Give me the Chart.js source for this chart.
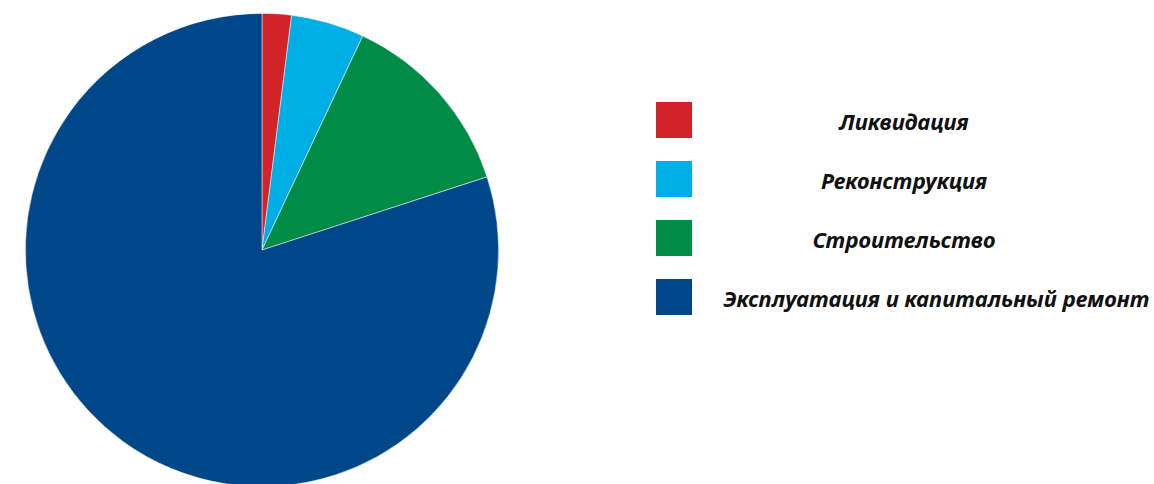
<!DOCTYPE html>
<html lang="ru">
<head>
<meta charset="utf-8">
<title>Структура работ</title>
<script src="https://cdn.jsdelivr.net/npm/chart.js@4/dist/chart.umd.min.js"></script>
<style>
    html, body {
        margin: 0;
        padding: 0;
        width: 1154px;
        height: 484px;
        overflow: hidden;
        background: #fff;
    }
    #pieBox {
        position: absolute;
        left: 0;
        top: 0;
        width: 524px;
        height: 500px;
    }
    #legend {
        position: absolute;
        left: 656px;
        top: 102px;
        margin: 0;
        padding: 0;
        list-style: none;
        font-family: "Noto Sans", sans-serif;
        font-weight: bold;
        font-style: italic;
        font-size: 22px;
        color: #111;
    }
    #legend li {
        position: relative;
        height: 36px;
        margin-bottom: 23px;
    }
    #legend .swatch {
        position: absolute;
        left: 0;
        top: 0;
        width: 36px;
        height: 36px;
    }
    #legend .label {
        position: absolute;
        left: 67px;
        top: 1px;
        width: 362px;
        line-height: 36px;
        text-align: center;
        white-space: nowrap;
    }
</style>
</head>
<body>
<div id="pieBox"><canvas id="pieChart"></canvas></div>
<ul id="legend"></ul>
<script>
    const categories = ['Ликвидация', 'Реконструкция', 'Строительство', 'Эксплуатация и капитальный ремонт'];
    const shares = [2, 5, 13, 80];
    const sliceColors = ['#d2232a', '#00aee6', '#008c46', '#00478a'];

    document.addEventListener('DOMContentLoaded', function() {
        const ctx = document.getElementById('pieChart').getContext('2d');
        const pie = new Chart(ctx, {
            type: 'pie',
            data: {
                labels: categories,
                datasets: [{
                    data: shares,
                    backgroundColor: sliceColors,
                    borderColor: 'rgba(255, 255, 255, 0.6)',
                    borderWidth: 0.8
                }]
            },
            options: {
                responsive: true,
                maintainAspectRatio: false,
                animation: false,
                layout: { padding: 13 },
                plugins: {
                    legend: { display: false },
                    tooltip: { enabled: false }
                }
            }
        });

        // legend on the right, built from the chart's own items
        const list = document.getElementById('legend');
        pie.legend.legendItems.forEach(function(item) {
            const li = document.createElement('li');
            const box = document.createElement('span');
            box.className = 'swatch';
            box.style.background = item.fillStyle;
            const text = document.createElement('span');
            text.className = 'label';
            text.textContent = item.text;
            li.appendChild(box);
            li.appendChild(text);
            list.appendChild(li);
        });
    });
</script>
</body>
</html>
